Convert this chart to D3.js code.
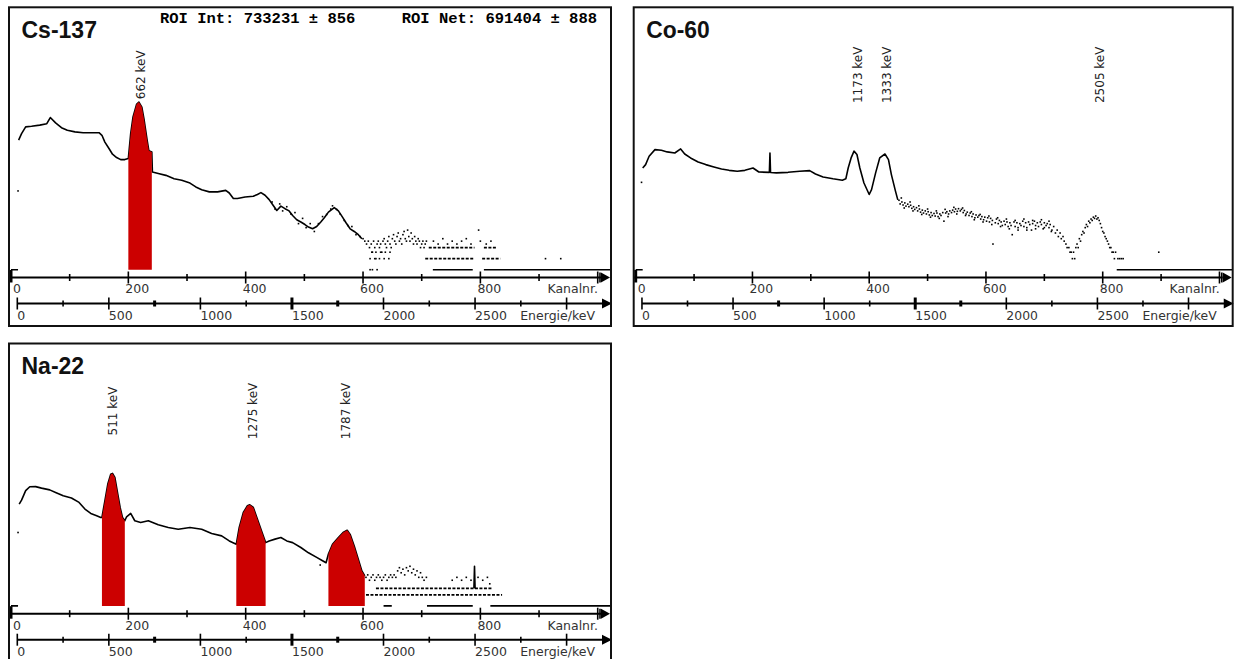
<!DOCTYPE html>
<html>
<head>
<meta charset="utf-8">
<script src="https://cdn.jsdelivr.net/npm/d3@7"></script>
<style>
  body { margin: 0; background: #fff; }
  svg { display: block; }
</style>
</head>
<body>
<svg id="chart" width="1235" height="659"></svg>
<script>

// axes
const channelTicks = d3.range(0, 1001, 100);
const channelLabels = [0, 200, 400, 600, 800];
const energyTicks = d3.range(0, 3001, 250);
const energyLabels = [0, 500, 1000, 1500, 2000, 2500];
const boldEnergyTicks = [750, 1500, 1750];
const roiInfo = ["ROI Int: 733231 \u00b1 856", "ROI Net: 691404 \u00b1 888"];

// Cs-137: [channel, counts]
const csCurve = [[13,3400],[18,5100],[25,7800],[35,8100],[49,8700],[61,9500],[67,14000],[76,10000],[86,7400],[96,6300],
  [109,5700],[123,5400],[150,5400],[155,4600],[160,3000],[167,2000],[173,1400],[180,1140],[187,1000],[194,1000],[200,1070],
  [204,5100],[208,14500],[214,32000],[218,37000],[223,27000],[227,11800],[232,3400],[235,1730],[240,1620],
  [241,457],[251,417],[264,372],[278,302],[291,275],[305,229],[315,180],[325,151],[338,132],[352,132],[366,145],[372,123],
  [379,87],[386,87],[399,96],[413,100],[420,112],[426,126],[433,107],[440,81],[447,56],[453,41],[460,54],[467,46],[474,40],
  [480,30],[487,23],[494,20],[501,17],[507,14.5],[514,13],[521,15],[528,20],[534,26],[541,37],[551,49],[558,40],[565,27],
  [571,19],[578,13],[585,11],[592,9],[598,7]];
const csDots = [[12,140],[600,7],[603,6],[606,5],[609,6],[611,4],[614,5],[616,3],[618,6],[620,4],[622,2],[624,5],[626,6],
  [628,4],[630,5],[632,3],[634,6],[636,7],[638,5],[640,4],[642,6],[644,8],[646,5],[648,4],[650,7],[652,9],[654,6],[656,5],
  [658,8],[660,10],[662,6],[664,7],[666,5],[668,9],[670,11],[672,7],[674,6],[676,12],[678,8],[680,6],[682,10],[684,7],
  [686,5],[688,8],[690,6],[692,5],[694,7],[696,6],[698,4],[700,5],[702,6],[704,4],[706,5],[708,6],
  [612,1],[616,1],[624,1],[612,2],[620,2],[628,2],[636,2],[644,2],[615,3],[622,3],[630,3],[638,3],[646,3],
  [720,6],[728,5],[736,7],[744,5],[752,6],[760,5],[768,6],[776,7],[784,5],[797,12],[800,6],[810,5],[818,6],[911,2],[937,2],
  [445,70],[450,45],[458,62],[463,40],[470,52],[477,33],[484,36],[490,18],[497,25],[503,14],[510,18],[517,11],[524,18],
  [531,28],[538,32],[545,45],[548,55],[555,44],[561,33],[568,22],[574,16],[581,15],[588,9],[595,8]];
const csRuns = [[0,12,0],[719,787,0],[806,1023,0],[706,790,2],[803,834,2],[712,790,4],[806,827,4]];
const csRois = [[200,240]];
const csPeaks = [662];

// Co-60
const coCurve = [[12,590],[17,730],[23,1230],[33,1870],[44,1790],[54,1620],[67,1510],[77,1950],[84,1420],[94,1110],
  [107,860],[120,730],[134,630],[147,555],[160,510],[174,480],[187,510],[201,590],[211,460],[229,450],[230,1510],[231,445],
  [241,435],[261,450],[281,480],[298,500],[308,405],[321,335],[338,300],[354,275],[360,300],[364,590],[369,1110],[374,1700],
  [379,1380],[384,590],[391,230],[400,112],[404,152],[411,435],[418,1110],[427,1420],[433,1000],[438,390],[445,138],[449,80]];
const coDots = [[10,240],[451,78],[453,62],[456,70],[458,58],[461,66],[463,54],[466,61],[468,52],[471,57],[473,47],[476,52],
  [478,44],[481,49],[483,40],[486,45],[488,37],[491,42],[493,35],[496,40],[498,33],[501,38],[503,31],[506,36],[508,30],
  [511,34],[513,29],[516,35],[518,28],[521,33],[523,30],[526,36],[528,21],[531,35],[533,38],[536,33],[538,40],[541,36],
  [543,42],[546,38],[548,45],[551,39],[553,46],[556,40],[558,44],[561,36],[563,41],[566,33],[568,37],[571,30],[573,35],
  [576,28],[578,33],[581,26],[583,31],[586,27],[588,30],[591,24],[593,28],[596,23],[598,27],[601,21],[603,26],[606,20],
  [608,25],[611,22],[612,5],[616,19],[618,24],[621,18],[623,22],[626,20],[628,16],[631,21],[633,17],[636,20],[638,15],
  [641,19],[643,16],[645,9],[648,20],[650,15],[653,19],[655,14],[658,18],[660,16],[663,21],[665,15],[668,19],[670,14],
  [673,20],[675,17],[678,12],[680,18],[683,21],[685,16],[688,19],[690,15],[693,20],[695,17],[698,13],[700,19],[703,16],
  [705,18],[708,14],[710,17],[713,12],[716,15],[719,10],[722,12],[724,8],[727,10],[729,7],[732,8],[734,6],[737,5],[739,4],
  [742,4],[744,3],[746,3],[748,2],[750,3],[752,2],[754,4],[756,5],[758,4],[760,7],[762,6],[764,9],[766,11],[768,10],
  [770,14],[772,17],[774,15],[776,21],[778,19],[780,24],[782,22],[784,27],[786,25],[788,29],[790,24],[792,26],[794,22],
  [796,18],[798,14],[800,11],[802,10],[804,8],[806,7],[808,6],[810,5],[812,4],[814,4],[816,3],[818,3],[820,2],[822,3],
  [826,2],[829,2],[832,2],[835,2],[896,3],
  [455,90],[460,48],[470,70],[475,40],[485,55],[490,32],[500,45],[505,27],[515,40],[520,25],[530,44],[535,28],[545,50],
  [550,33],[560,48],[565,30],[575,38],[580,23],[590,32],[595,20],[605,29],[610,17],[620,26],[625,15],[635,24],[640,13],
  [650,22],[655,12],[665,24],[670,12],[680,22],[685,13],[695,23],[700,14],[708,21],[712,11]];
const coRuns = [[0,12,0],[824,1023,0]];
const coRois = [];
const coPeaks = [1173, 1333, 2505];

// Na-22
const naCurve = [[14,590],[18,760],[25,1380],[32,1760],[42,1780],[52,1620],[66,1450],[76,1230],[89,1000],[103,870],
  [116,660],[126,435],[136,330],[146,285],[153,257],
  [155,257],[160,730],[165,2090],[170,3890],[173,4070],[177,3160],[182,1110],[186,480],[190,257],[194,209],
  [197,268],[204,330],[211,209],[221,187],[234,209],[251,162],[268,137],[285,123],[305,137],[325,123],[342,94],[359,81],[372,59],
  [384,48],[389,137],[396,350],[403,535],[407,570],[413,480],[419,257],[426,123],[434,53],
  [440,59],[450,66],[460,73],[470,59],[480,53],[494,39],[507,28],[521,21],[531,17],[537,15],
  [541,26],[548,48],[558,73],[566,100],[573,115],[578,89],[585,43],[591,21],[598,9],[603,6.6]];
const naSpike = [[789,3],[790,12],[791,3]];
const naDots = [[12,100],[527,13],[605,6],[608,7],[611,5],[614,6],[617,7],[620,5],[623,6],[626,7],[629,6],[632,5],[635,6],
  [638,7],[641,5],[644,6],[647,7],[650,6],[653,7],[656,6],[659,9],[662,11],[665,8],[668,10],[671,7],[674,11],[677,9],
  [680,12],[683,8],[686,10],[689,7],[692,9],[695,6],[698,8],[701,6],[704,5],[708,6],[752,5],[760,6],[768,5],[776,6],
  [784,5],[796,6],[804,5],[812,6],[816,4]];
const naRuns = [[0,12,0],[635,649,0],[709,787,0],[817,1023,0],[622,820,3],[605,837,2]];
const naRois = [[155,194],[384,434],[541,603]];
const naPeaks = [511, 1275, 1787];

const panels = [
  { name: "Cs-137", x: 9, y: 7.3, sx: 1, curves: [csCurve], dots: csDots, runs: csRuns, rois: csRois, peaks: csPeaks, info: true },
  { name: "Co-60", x: 633.7, y: 7.3, sx: 0.995, curves: [coCurve], dots: coDots, runs: coRuns, rois: coRois, peaks: coPeaks, info: false },
  { name: "Na-22", x: 9, y: 343.5, sx: 1, curves: [naCurve, naSpike], dots: naDots, runs: naRuns, rois: naRois, peaks: naPeaks, info: false }
];

const svg = d3.select("#chart");
const W = 602, H = 318.7;
const axisY = 270.2, eAxisY = 296.2;
const labelFont = "'DejaVu Sans', sans-serif";

function drawPanel(p, idx) {
  const g = svg.append("g").attr("transform", `translate(${p.x},${p.y}) scale(${p.sx},1)`);

  const x = d3.scaleLinear().domain([0, 1024]).range([2, 602.8]);
  const xE = d3.scaleLinear().domain([0, 3000]).range([8.3, 557.6]);
  const y = d3.scaleLog().domain([1, 1e7]).range([262.4, 5.5]);
  const yc = c => y(Math.max(c, 1));

  g.append("clipPath").attr("id", "clip" + idx)
    .append("rect").attr("x", 0).attr("y", 0).attr("width", W).attr("height", 265);
  const plot = g.append("g").attr("clip-path", `url(#clip${idx})`);

  // spectrum
  const line = d3.line().x(d => x(d[0])).y(d => yc(d[1]));
  p.curves.forEach(c => {
    plot.append("path")
      .attr("d", line(c))
      .attr("fill", "none")
      .attr("stroke", "#000")
      .attr("stroke-width", 1.6)
      .attr("stroke-linejoin", "round");
  });

  plot.selectAll(".run").data(p.runs).join("line")
    .attr("x1", d => x(d[0]))
    .attr("x2", d => x(d[1]))
    .attr("y1", d => yc(d[2]))
    .attr("y2", d => yc(d[2]))
    .attr("stroke", "#000")
    .attr("stroke-width", 1.6)
    .attr("stroke-dasharray", d => d[2] > 0 ? "3,1.5" : null);

  plot.selectAll(".dot").data(p.dots).join("rect")
    .attr("x", d => x(d[0]) - 0.8)
    .attr("y", d => yc(d[1]) - 0.8)
    .attr("width", 1.6)
    .attr("height", 1.6)
    .attr("fill", "#000");

  // ROI fill
  const area = d3.area().x(d => x(d[0])).y0(y(1)).y1(d => yc(d[1]));
  p.rois.forEach(r => {
    const pts = p.curves[0].filter(d => d[0] >= r[0] && d[0] <= r[1]);
    plot.append("path").attr("d", area(pts)).attr("fill", "#cc0000");
  });

  // peak labels
  g.selectAll(".peak").data(p.peaks).join("text")
    .attr("transform", d => `translate(${xE(d) + 6},67.5) rotate(-90)`)
    .attr("text-anchor", "middle")
    .style("font-family", labelFont)
    .style("font-size", "12px")
    .attr("fill", "#222")
    .text(d => d + " keV");

  // title
  g.append("text")
    .attr("x", 12.5).attr("y", 30.5)
    .style("font-family", "'Liberation Sans', Arial, sans-serif")
    .style("font-weight", "bold")
    .style("font-size", "23px")
    .attr("fill", "#111")
    .text(p.name);

  if (p.info) {
    g.selectAll(".info").data(roiInfo).join("text")
      .attr("x", (d, i) => i === 0 ? 151 : 392.7)
      .attr("y", 15.4)
      .style("font-family", "'Liberation Mono', monospace")
      .style("font-weight", "bold")
      .style("font-size", "15.5px")
      .attr("fill", "#000")
      .text(d => d);
  }

  // channel axis
  g.append("line")
    .attr("x1", 0).attr("x2", 592)
    .attr("y1", axisY).attr("y2", axisY)
    .attr("stroke", "#000").attr("stroke-width", 2);
  g.selectAll(".ctick").data(channelTicks).join("line")
    .attr("x1", d => x(d)).attr("x2", d => x(d))
    .attr("y1", d => axisY - (d === 0 ? 7.5 : d % 200 === 0 ? 6 : 3.5))
    .attr("y2", d => axisY + (d === 0 ? 5 : d % 200 === 0 ? 6 : 3.5))
    .attr("stroke", "#000")
    .attr("stroke-width", d => d === 0 ? 3 : 1.6);
  g.append("line")
    .attr("x1", 591).attr("x2", 591)
    .attr("y1", axisY - 5).attr("y2", axisY + 5)
    .attr("stroke", "#000").attr("stroke-width", 1.6);
  g.append("path")
    .attr("d", `M592,${axisY - 5}L601,${axisY}L592,${axisY + 5}Z`)
    .attr("fill", "#000");

  g.selectAll(".clabel").data(channelLabels).join("text")
    .attr("x", d => x(d) + (d === 0 ? 2 : -3))
    .attr("y", 286)
    .style("font-family", labelFont)
    .style("font-size", "12.5px")
    .attr("fill", "#333")
    .text(d => d);
  g.append("text")
    .attr("x", 589).attr("y", 286)
    .attr("text-anchor", "end")
    .style("font-family", labelFont)
    .style("font-size", "12.5px")
    .attr("fill", "#333")
    .text("Kanalnr.");

  // energy axis
  g.append("line")
    .attr("x1", xE(0)).attr("x2", 594)
    .attr("y1", eAxisY).attr("y2", eAxisY)
    .attr("stroke", "#000").attr("stroke-width", 2);
  g.selectAll(".etick").data(energyTicks).join("line")
    .attr("x1", d => xE(d)).attr("x2", d => xE(d))
    .attr("y1", d => eAxisY - (d % 500 === 0 ? 6 : 3))
    .attr("y2", d => eAxisY + (d % 500 === 0 ? 6 : 3))
    .attr("stroke", "#000")
    .attr("stroke-width", d => boldEnergyTicks.includes(d) ? 3 : 1.6);
  g.append("path")
    .attr("d", `M593,${eAxisY - 5}L603,${eAxisY}L593,${eAxisY + 5}Z`)
    .attr("fill", "#000");

  g.selectAll(".elabel").data(energyLabels).join("text")
    .attr("x", d => xE(d))
    .attr("y", 312.7)
    .style("font-family", labelFont)
    .style("font-size", "12.5px")
    .attr("fill", "#333")
    .text(d => d);
  g.append("text")
    .attr("x", 586).attr("y", 312.7)
    .attr("text-anchor", "end")
    .style("font-family", labelFont)
    .style("font-size", "12.5px")
    .attr("fill", "#333")
    .text("Energie/keV");

  // frame
  g.append("rect")
    .attr("x", 0).attr("y", 0)
    .attr("width", W).attr("height", H)
    .attr("fill", "none")
    .attr("stroke", "#111")
    .attr("stroke-width", 2);
}

panels.forEach(drawPanel);

</script>
</body>
</html>
